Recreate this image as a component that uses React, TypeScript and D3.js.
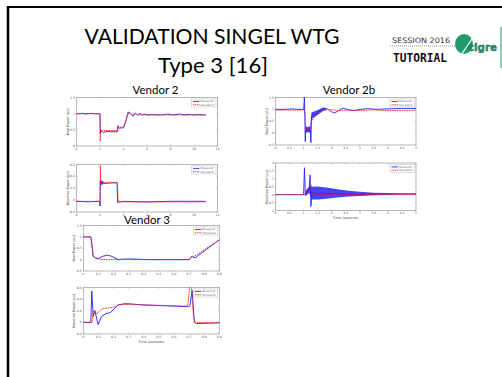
import * as d3 from "d3";

type Pt = [number, number];

// Vendor 2 – real power
const v2RealMeasured: Pt[] = [
  [0, 1], [0.3, 1.0], [0.5, 1.01], [0.7, 0.99], [1, 1.0], [1.3, 1.01], [1.6, 0.99], [2, 1.0],
  [2.02, 0.4], [2.05, 0.5], [2.1, 0.45], [2.3, 0.42], [2.6, 0.45], [3, 0.44], [3.45, 0.44],
  [3.5, 0.45], [3.52, 0.63], [3.6, 0.55], [3.8, 0.56], [4.0, 0.56], [4.2, 0.78], [4.4, 1.05],
  [4.6, 1.0], [4.8, 0.92], [5.0, 1.02], [5.2, 0.96], [5.4, 1.01], [5.6, 0.95], [5.8, 0.99],
  [6, 0.96], [6.5, 0.97], [7, 0.96], [7.5, 0.97], [7.8, 0.99], [8.2, 0.96], [8.8, 0.99],
  [9.2, 0.96], [9.6, 0.98], [10, 0.96], [10.5, 0.97], [11, 0.96],
];
const v2RealSimulated: Pt[] = [
  [0, 1], [2, 1], [2.02, 0.15], [2.06, 0.48], [3.5, 0.48], [3.52, 0.58], [4, 0.58],
  [4.45, 1.04], [4.7, 0.97], [5, 1.0], [5.3, 0.95], [5.6, 0.98], [6, 0.96], [11, 0.96],
];

// Vendor 2 – reactive power
const v2ReacMeasured: Pt[] = [
  [0, -0.02], [1, -0.03], [1.98, -0.02], [2.0, -0.1], [2.03, 0.32], [2.1, 0.27], [2.2, 0.3],
  [2.4, 0.28], [3, 0.29], [3.45, 0.29], [3.5, -0.04], [3.6, -0.03], [4, -0.02], [6, -0.03],
  [8, -0.02], [11, -0.02],
];
const v2ReacSimulated: Pt[] = [
  [0, -0.02], [2, -0.02], [2.03, 0.58], [2.06, 0.3], [3.48, 0.3], [3.55, -0.03], [11, -0.03],
];
const v2ReacBandT = [2.03, 2.15, 2.3];
const v2ReacBandHi = [0.34, 0.33, 0.31];
const v2ReacBandLo = [0.24, 0.26, 0.27];

// Vendor 2b – real power
const v2bRealMeasured: Pt[] = [
  [0, 1.0], [0.3, 1.0], [0.6, 1.02], [0.8, 1.0], [1.0, 1.0], [1.03, 1.5], [1.06, -0.35],
  [1.08, 0.2], [1.15, 0.1], [1.2, 0.2], [1.24, 0.15], [1.26, -0.4], [1.28, 0.7], [1.35, 0.75],
  [1.5, 0.85], [1.7, 1.05], [1.85, 1.02], [2.0, 0.9], [2.1, 0.85], [2.25, 0.95], [2.4, 1.05],
  [2.6, 0.98], [2.8, 0.95], [3.0, 1.0], [3.3, 1.03], [3.6, 1.0], [4, 1.02], [4.5, 1.04], [5, 1.04],
];
const v2bRealSimulated: Pt[] = [
  [0, 0.97], [1.05, 0.97], [1.08, 0.1], [1.12, 0.2], [1.25, 0.2], [1.3, 0.55], [1.5, 0.8],
  [1.7, 0.95], [1.9, 1.0], [2.2, 0.95], [2.6, 0.97], [3, 0.95], [3.5, 0.98], [4, 0.95], [5, 0.96],
];
const v2bRealBandT = [1.06, 1.15, 1.24, 1.28, 1.4, 1.55, 1.7, 1.8];
const v2bRealBandHi = [0.3, 0.25, 0.3, 0.88, 0.92, 1.0, 1.08, 1.04];
const v2bRealBandLo = [0.0, 0.05, 0.0, 0.6, 0.7, 0.82, 0.94, 0.97];

// Vendor 2b – reactive power
const v2bReacMeasured: Pt[] = [
  [0, 0], [1.0, 0], [1.03, 1.7], [1.06, 0.0], [1.1, 0.1], [1.2, 0.4], [1.23, 1.25],
  [1.26, -0.75], [1.3, 0.2], [1.4, 0.05], [2, 0.05], [3, 0.02], [5, 0.05],
];
const v2bReacSimulated: Pt[] = [
  [0, 0], [1.05, 0], [1.1, 0.3], [1.2, 0.5], [1.26, 0.68], [1.3, 0.3], [1.35, 0], [5, 0],
];
const v2bReacBandT = [1.06, 1.2, 1.3, 1.5, 1.8, 2.2, 2.6, 3, 3.5, 4, 4.5, 5];
const v2bReacBandHi = [0.2, 0.5, 0.5, 0.52, 0.45, 0.35, 0.25, 0.18, 0.12, 0.1, 0.08, 0.08];
const v2bReacBandLo = [-0.1, 0.1, -0.3, -0.3, -0.25, -0.18, -0.12, -0.08, -0.04, 0.0, 0.02, 0.02];

// Vendor 3 – real power
const v3RealMeasured: Pt[] = [
  [0, 1.0], [0.05, 1.0], [0.06, 0.5], [0.065, 0.15], [0.08, 0.08], [0.1, 0.05], [0.13, 0.15],
  [0.16, 0.2], [0.19, 0.14], [0.23, 0.0], [0.26, 0.02], [0.3, 0.03], [0.35, 0.02], [0.45, 0.0],
  [0.6, 0.0], [0.7, 0.0], [0.72, 0.13], [0.74, 0.08], [0.9, 0.87],
];
const v3RealSimulated: Pt[] = [
  [0, 1.0], [0.05, 1.0], [0.065, 0.15], [0.08, 0.06], [0.1, 0.02], [0.15, 0.0], [0.7, 0.0],
  [0.72, 0.17], [0.73, 0.13], [0.9, 0.86],
];

// Vendor 3 – reactive power
const v3ReacMeasured: Pt[] = [
  [0, 0], [0.05, 0], [0.056, 0.54], [0.066, 0.1], [0.077, 0.2], [0.098, -0.04], [0.12, 0.1],
  [0.15, 0.15], [0.18, 0.17], [0.23, 0.3], [0.27, 0.32], [0.3, 0.32], [0.4, 0.3], [0.69, 0.27],
  [0.705, 0.28], [0.72, 0.55], [0.735, 0.0], [0.75, -0.02], [0.9, -0.01],
];
const v3ReacSimulated: Pt[] = [
  [0, 0], [0.058, 0], [0.065, 0.2], [0.075, 0.2], [0.09, 0.15], [0.11, 0.2], [0.13, 0.24],
  [0.17, 0.25], [0.2, 0.26], [0.23, 0.3], [0.28, 0.31], [0.4, 0.3], [0.69, 0.28], [0.705, 0.6],
  [0.715, 0.58], [0.73, 0.1], [0.74, 0], [0.9, 0],
];

const ticks12 = [0, 2, 4, 6, 8, 10, 12];
const ticks5 = [0, 0.5, 1, 1.5, 2, 2.5, 3, 3.5, 4, 4.5, 5];
const ticks09 = [0, 0.1, 0.2, 0.3, 0.4, 0.5, 0.6, 0.7, 0.8, 0.9];

const BLUE = "#2323ff";
const RED = "#ff1a1a";
const GREEN = "#1f9b6c";

type PanelProps = {
  x0: number;
  y0: number;
  w: number;
  h: number;
  xDomain: [number, number];
  yDomain: [number, number];
  xTicks: number[];
  yTicks: number[];
  ylabel: string;
  xlabel?: string;
  measured: Pt[];
  simulated: Pt[];
  band?: { t: number[]; hi: number[]; lo: number[] }[];
};

function Panel(p: PanelProps) {
  const x = d3.scaleLinear().domain(p.xDomain).range([p.x0, p.x0 + p.w]);
  const y = d3.scaleLinear().domain(p.yDomain).range([p.y0 + p.h, p.y0]);
  const line = d3
    .line<Pt>()
    .x((d) => x(d[0]))
    .y((d) => y(d[1]));
  const lx = p.x0 + p.w - 26;
  const ly = p.y0 + 1.5;
  return (
    <g>
      <rect x={p.x0} y={p.y0} width={p.w} height={p.h} fill="#fff" stroke="#9a9a9a" strokeWidth={0.7} />
      {p.xTicks.map((t) => (
        <g key={"x" + t}>
          <line x1={x(t)} x2={x(t)} y1={p.y0 + p.h} y2={p.y0 + p.h - 1.5} stroke="#999" strokeWidth={0.4} />
          <line x1={x(t)} x2={x(t)} y1={p.y0} y2={p.y0 + 1.5} stroke="#999" strokeWidth={0.4} />
          <text x={x(t)} y={p.y0 + p.h + 3.8} fontSize={3.2} textAnchor="middle" fill="#555" fontFamily="DejaVu Sans">
            {String(t)}
          </text>
        </g>
      ))}
      {p.yTicks.map((t) => (
        <g key={"y" + t}>
          <line x1={p.x0} x2={p.x0 + 1.5} y1={y(t)} y2={y(t)} stroke="#999" strokeWidth={0.4} />
          <line x1={p.x0 + p.w} x2={p.x0 + p.w - 1.5} y1={y(t)} y2={y(t)} stroke="#999" strokeWidth={0.4} />
          <text x={p.x0 - 1.5} y={y(t) + 1.1} fontSize={3.2} textAnchor="end" fill="#555" fontFamily="DejaVu Sans">
            {String(t)}
          </text>
        </g>
      ))}
      <text
        transform={`translate(${p.x0 - 8},${p.y0 + p.h / 2}) rotate(-90)`}
        fontSize={3.4}
        textAnchor="middle"
        fill="#444"
        fontFamily="DejaVu Sans"
      >
        {p.ylabel}
      </text>
      {p.xlabel && (
        <text x={p.x0 + p.w / 2} y={p.y0 + p.h + 8.5} fontSize={3.4} textAnchor="middle" fill="#444" fontFamily="DejaVu Sans">
          {p.xlabel}
        </text>
      )}
      {(p.band || []).map((b, k) => {
        const a = d3
          .area<number>()
          .x((_, i) => x(b.t[i]))
          .y0((_, i) => y(b.lo[i]))
          .y1((_, i) => y(b.hi[i]));
        return <path key={k} d={a(b.t) || ""} fill={BLUE} opacity={0.85} />;
      })}
      <path d={line(p.measured) || ""} fill="none" stroke={BLUE} strokeWidth={0.9} />
      <path d={line(p.simulated) || ""} fill="none" stroke={RED} strokeWidth={0.9} strokeDasharray="1.6,0.8" />
      <g>
        <rect x={lx} y={ly} width={24.5} height={8} fill="#fff" stroke="#aaa" strokeWidth={0.4} />
        <line x1={lx + 1.5} x2={lx + 8} y1={ly + 2.4} y2={ly + 2.4} stroke={BLUE} strokeWidth={0.9} />
        <line x1={lx + 1.5} x2={lx + 8} y1={ly + 5.8} y2={ly + 5.8} stroke={RED} strokeWidth={0.9} strokeDasharray="1.2,0.6" />
        <text x={lx + 9} y={ly + 3.3} fontSize={2.6} fill="#666" fontFamily="DejaVu Sans">Measured</text>
        <text x={lx + 9} y={ly + 6.7} fontSize={2.6} fill="#666" fontFamily="DejaVu Sans">Simulated</text>
      </g>
    </g>
  );
}

export default function App() {
  const titleFont = "Lato, 'Open Sans', sans-serif";
  return (
    <svg width={502} height={377} style={{ position: "absolute", left: 0, top: 0, background: "#fff" }}>
      <rect x={0} y={0} width={502} height={377} fill="#fff" />
      {/* slide frame */}
      <line x1={7} x2={502} y1={7} y2={7} stroke="#000" strokeWidth={2} />
      <line x1={8} x2={8} y1={6} y2={377} stroke="#000" strokeWidth={2.5} />
      <line x1={501} x2={501} y1={27} y2={68} stroke={GREEN} strokeWidth={1} />

      {/* titles */}
      <text x={212} y={43.5} fontSize={21} textAnchor="middle" fontFamily={titleFont} textLength={255} lengthAdjust="spacingAndGlyphs">
        VALIDATION SINGEL WTG
      </text>
      <text x={213} y={72.8} fontSize={21} textAnchor="middle" fontFamily={titleFont} textLength={110} lengthAdjust="spacingAndGlyphs">
        Type 3 [16]
      </text>
      <text x={155.5} y={94} fontSize={11.5} textAnchor="middle" fontFamily={titleFont}>
        Vendor 2
      </text>
      <text x={349} y={94} fontSize={11.5} textAnchor="middle" fontFamily={titleFont}>
        Vendor 2b
      </text>
      <text x={147} y={223.5} fontSize={11.5} textAnchor="middle" fontFamily={titleFont}>
        Vendor 3
      </text>

      {/* logo */}
      <text x={392} y={43.3} fontSize={7.5} fontFamily="'DejaVu Sans'" fill="#333" textLength={58} lengthAdjust="spacingAndGlyphs">
        SESSION 2016
      </text>
      <line x1={390} x2={455} y1={46} y2={46} stroke="#777" strokeWidth={0.8} strokeDasharray="1,1" />
      <text x={393} y={61.7} fontSize={13} fontWeight="bold" fontFamily="'DejaVu Sans Mono', monospace" fill="#111" textLength={54} lengthAdjust="spacingAndGlyphs">
        TUTORIAL
      </text>
      <ellipse cx={464} cy={44} rx={9} ry={10} fill={GREEN} />
      <line x1={457} x2={476} y1={61} y2={33} stroke="#fff" strokeWidth={1.3} />
      <text x={468} y={51} fontSize={10} fontWeight="bold" fontFamily="'DejaVu Sans'" fill={GREEN} stroke="#0e5c3e" strokeWidth={0.35} textLength={29} lengthAdjust="spacingAndGlyphs">
        cigre
      </text>

      <Panel
        x0={76.5} y0={97.5} w={141} h={48.5}
        xDomain={[0, 12]} yDomain={[0, 1.5]}
        xTicks={ticks12} yTicks={[0, 0.5, 1, 1.5]}
        ylabel="Real Power (pu)"
        measured={v2RealMeasured} simulated={v2RealSimulated}
      />
      <Panel
        x0={76.5} y0={164.5} w={141} h={47.5}
        xDomain={[0, 12]} yDomain={[-0.2, 0.6]}
        xTicks={ticks12} yTicks={[-0.2, 0, 0.2, 0.4, 0.6]}
        ylabel="Reactive Power (pu)"
        measured={v2ReacMeasured} simulated={v2ReacSimulated}
        band={[{ t: v2ReacBandT, hi: v2ReacBandHi, lo: v2ReacBandLo }]}
      />
      <Panel
        x0={275.5} y0={97.5} w={140.5} h={47.5}
        xDomain={[0, 5]} yDomain={[-0.5, 1.5]}
        xTicks={ticks5} yTicks={[-0.5, 0, 0.5, 1, 1.5]}
        ylabel="Real Power (pu)"
        measured={v2bRealMeasured} simulated={v2bRealSimulated}
        band={[{ t: v2bRealBandT, hi: v2bRealBandHi, lo: v2bRealBandLo }]}
      />
      <Panel
        x0={275.5} y0={163} w={140.5} h={47.5}
        xDomain={[0, 5]} yDomain={[-1, 2]}
        xTicks={ticks5} yTicks={[-1, -0.5, 0, 0.5, 1, 1.5, 2]}
        ylabel="Reactive Power (pu)" xlabel="Time (seconds)"
        measured={v2bReacMeasured} simulated={v2bReacSimulated}
        band={[{ t: v2bReacBandT, hi: v2bReacBandHi, lo: v2bReacBandLo }]}
      />
      <Panel
        x0={83.3} y0={225.5} w={136} h={45.5}
        xDomain={[0, 0.9]} yDomain={[-0.5, 1.5]}
        xTicks={ticks09} yTicks={[-0.5, 0, 0.5, 1, 1.5]}
        ylabel="Real Power (pu)"
        measured={v3RealMeasured} simulated={v3RealSimulated}
      />
      <Panel
        x0={83.3} y0={287.5} w={136} h={46.5}
        xDomain={[0, 0.9]} yDomain={[-0.2, 0.6]}
        xTicks={ticks09} yTicks={[-0.2, 0, 0.2, 0.4, 0.6]}
        ylabel="Reactive Power (pu)" xlabel="Time (seconds)"
        measured={v3ReacMeasured} simulated={v3ReacSimulated}
      />
    </svg>
  );
}
